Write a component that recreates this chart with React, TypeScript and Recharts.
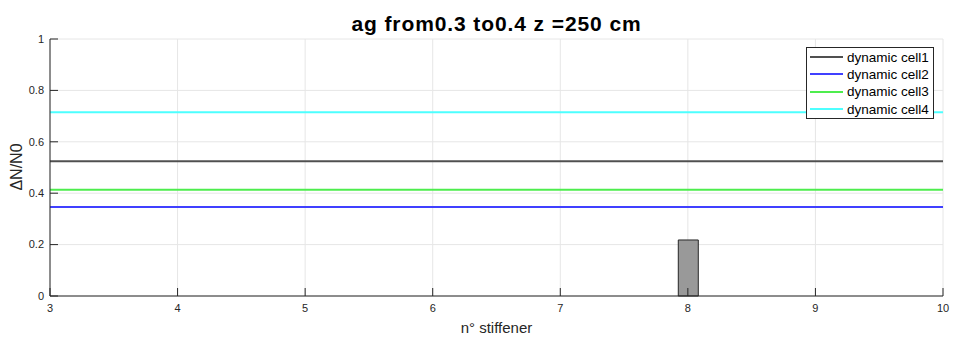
import React from "react";
import {
  ComposedChart,
  Line,
  Bar,
  XAxis,
  YAxis,
  CartesianGrid
} from "recharts";

// x positions (n° stiffener) where the values are given
const stiffener = [3, 8, 10];
// dynamic cells: horizontal levels, given at both ends of the axis
const cell1 = [0.524, null, 0.524];
const cell2 = [0.346, null, 0.346];
const cell3 = [0.413, null, 0.413];
const cell4 = [0.715, null, 0.715];
// bar at stiffener 8
const barValues = [null, 0.218, null];

const xTicks = [3, 4, 5, 6, 7, 8, 9, 10];
const yTicks = [0, 0.2, 0.4, 0.6, 0.8, 1];

const seriesNames = ["dynamic cell1", "dynamic cell2", "dynamic cell3", "dynamic cell4"];
const seriesKeys = ["c1", "c2", "c3", "c4"];
const seriesColors = ["#505050", "#4040ff", "#4ded4d", "#4dffff"];

const data = stiffener.map((x, i) => ({
  x,
  c1: cell1[i],
  c2: cell2[i],
  c3: cell3[i],
  c4: cell4[i],
  bar: barValues[i]
}));

const FONT = "'Liberation Sans', Arial, Helvetica, sans-serif";
const AXIS = "#262626";

const XTick = ({ x, y, payload }: any) => (
  <g>
    <line x1={x} x2={x} y1={y - 8} y2={y - 16} stroke={AXIS} />
    <text x={x} y={y} dy="0.71em" textAnchor="middle" fill={AXIS} fontSize={11} fontFamily={FONT}>
      {payload.value}
    </text>
  </g>
);

const YTick = ({ x, y, payload }: any) => (
  <g>
    <line x1={x + 6} x2={x + 14} y1={y} y2={y} stroke={AXIS} />
    <text x={x} y={y} dy="0.35em" textAnchor="end" fill={AXIS} fontSize={11} fontFamily={FONT}>
      {payload.value}
    </text>
  </g>
);

const App = () => {
  return (
    <div style={{ position: "relative", width: 953, height: 340, fontFamily: FONT }}>
      <style>{"body{margin:0}"}</style>
      <div
        style={{
          position: "absolute",
          left: 50,
          width: 893,
          top: 13,
          lineHeight: "21px",
          textAlign: "center",
          fontSize: 21,
          letterSpacing: 0.9,
          fontWeight: "bold",
          color: "#000"
        }}
      >
        ag from0.3 to0.4 z =250 cm
      </div>
      <div
        style={{
          position: "absolute",
          left: 17,
          top: 167,
          lineHeight: "16px",
          transform: "translate(-50%, -50%) rotate(-90deg)",
          fontSize: 16,
          color: AXIS,
          whiteSpace: "nowrap"
        }}
      >
        ΔN/N0
      </div>
      <div
        style={{
          position: "absolute",
          left: 50,
          width: 893,
          top: 320,
          lineHeight: "15px",
          textAlign: "center",
          fontSize: 15,
          color: AXIS
        }}
      >
        n° stiffener
      </div>

      <ComposedChart
        width={953}
        height={340}
        data={data}
        margin={{ top: 39, right: 10, left: 0, bottom: 0 }}
      >
        <CartesianGrid stroke="#e6e6e6" />
        <XAxis
          dataKey="x"
          type="number"
          domain={[3, 10]}
          ticks={xTicks}
          allowDataOverflow
          height={44}
          tickSize={0}
          tickMargin={8}
          tick={<XTick />}
          axisLine={{ stroke: AXIS }}
          tickLine={false}
        />
        <YAxis
          type="number"
          domain={[0, 1]}
          ticks={yTicks}
          width={50}
          tickSize={0}
          tickMargin={6}
          tick={<YTick />}
          axisLine={{ stroke: AXIS }}
          tickLine={false}
        />
        <Bar
          dataKey="bar"
          barSize={20}
          fill="#999999"
          stroke="#262626"
          strokeWidth={1}
          isAnimationActive={false}
        />
        {seriesKeys.map((k, i) => (
          <Line
            key={k}
            dataKey={k}
            name={seriesNames[i]}
            stroke={seriesColors[i]}
            strokeWidth={2}
            dot={false}
            connectNulls
            isAnimationActive={false}
          />
        ))}
      </ComposedChart>

      <div
        style={{
          position: "absolute",
          left: 806,
          top: 47,
          width: 126,
          padding: "0.5px 0",
          background: "#fff",
          border: "1px solid #262626",
          fontSize: 13.5
        }}
      >
        {seriesNames.map((n, i) => (
          <div key={n} style={{ display: "flex", alignItems: "center", height: 17.3 }}>
            <span
              style={{
                display: "inline-block",
                width: 33,
                height: 2,
                marginLeft: 3,
                marginRight: 4,
                background: seriesColors[i]
              }}
            />
            <span style={{ color: "#000", whiteSpace: "nowrap" }}>{n}</span>
          </div>
        ))}
      </div>
    </div>
  );
};

export default App;
